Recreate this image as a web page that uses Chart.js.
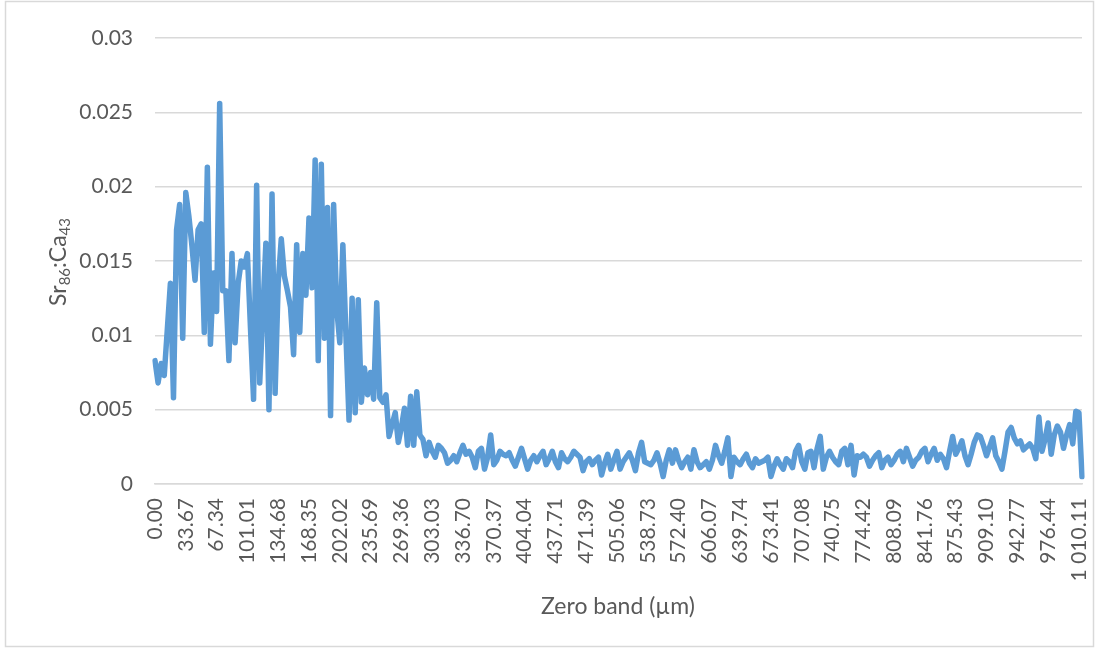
<!DOCTYPE html>
<html>
<head>
<meta charset="utf-8">
<script src="https://cdn.jsdelivr.net/npm/chart.js@4.4.1/dist/chart.umd.min.js"></script>
<style>
  html, body { margin: 0; padding: 0; background: #ffffff; }
  #wrap { width: 1102px; height: 652px; position: relative; }
</style>
</head>
<body>
<div id="wrap"><canvas id="c" width="1102" height="652"></canvas></div>
<script>
// ---- Data ----
const tickLabels = ["0.00","33.67","67.34","101.01","134.68","168.35","202.02","235.69","269.36","303.03",
  "336.70","370.37","404.04","437.71","471.39","505.06","538.73","572.40","606.07","639.74",
  "673.41","707.08","740.75","774.42","808.09","841.76","875.43","909.10","942.77","976.44","1 010.11"];
const pointsPerTick = 10;

const srCa = [
  0.0083, 0.0068, 0.0081, 0.0073, 0.0104, 0.0135, 0.0058, 0.0171, 0.0188, 0.0098,
  0.0196, 0.0180, 0.0160, 0.0137, 0.0171, 0.0175, 0.0102, 0.0213, 0.0094, 0.0142,
  0.0116, 0.0256, 0.0130, 0.0130, 0.0083, 0.0155, 0.0095, 0.0135, 0.0150, 0.0146,
  0.0155, 0.0105, 0.0057, 0.0201, 0.0068, 0.0115, 0.0162, 0.0050, 0.0195, 0.0061,
  0.0135, 0.0165, 0.0140, 0.0130, 0.0119, 0.0087, 0.0161, 0.0102, 0.0155, 0.0127,
  0.0179, 0.0132, 0.0218, 0.0083, 0.0215, 0.0098, 0.0186, 0.0046, 0.0188, 0.0118,
  0.0095, 0.0161, 0.0100, 0.0043, 0.0125, 0.0048, 0.0124, 0.0055, 0.0078, 0.0060,
  0.0075, 0.0057, 0.0122, 0.0058, 0.0055, 0.0060, 0.0032, 0.0040, 0.0048, 0.0028,
  0.0038, 0.0051, 0.0026, 0.0059, 0.0026, 0.0062, 0.0033, 0.0030, 0.0019, 0.0028,
  0.0022, 0.0018, 0.0026, 0.0024, 0.0021, 0.0014, 0.0016, 0.0019, 0.0015, 0.0021,
  0.0026, 0.0020, 0.0022, 0.0018, 0.0011, 0.0022, 0.0024, 0.0010, 0.0018, 0.0033,
  0.0013, 0.0016, 0.0022, 0.0020, 0.0019, 0.0021, 0.0016, 0.0012, 0.0018, 0.0024,
  0.0017, 0.0010, 0.0016, 0.0019, 0.0015, 0.0019, 0.0022, 0.0013, 0.0017, 0.0022,
  0.0015, 0.0011, 0.0021, 0.0017, 0.0015, 0.0018, 0.0022, 0.0020, 0.0018, 0.0009,
  0.0015, 0.0017, 0.0013, 0.0016, 0.0018, 0.0006, 0.0014, 0.0020, 0.0010, 0.0016,
  0.0022, 0.0010, 0.0015, 0.0018, 0.0021, 0.0016, 0.0009, 0.0021, 0.0028, 0.0015,
  0.0014, 0.0013, 0.0016, 0.0021, 0.0014, 0.0005, 0.0016, 0.0023, 0.0014, 0.0023,
  0.0016, 0.0011, 0.0015, 0.0018, 0.0010, 0.0023, 0.0015, 0.0011, 0.0013, 0.0015,
  0.0010, 0.0016, 0.0026, 0.0019, 0.0014, 0.0022, 0.0031, 0.0005, 0.0018, 0.0015,
  0.0013, 0.0017, 0.0020, 0.0014, 0.0011, 0.0017, 0.0014, 0.0015, 0.0016, 0.0018,
  0.0005, 0.0012, 0.0017, 0.0013, 0.0010, 0.0017, 0.0015, 0.0011, 0.0022, 0.0026,
  0.0015, 0.0010, 0.0021, 0.0022, 0.0011, 0.0024, 0.0032, 0.0010, 0.0018, 0.0022,
  0.0018, 0.0015, 0.0013, 0.0022, 0.0024, 0.0013, 0.0026, 0.0006, 0.0019, 0.0018,
  0.0020, 0.0018, 0.0012, 0.0016, 0.0019, 0.0021, 0.0011, 0.0016, 0.0018, 0.0013,
  0.0016, 0.0020, 0.0022, 0.0015, 0.0024, 0.0018, 0.0012, 0.0016, 0.0018, 0.0022,
  0.0024, 0.0015, 0.0020, 0.0024, 0.0016, 0.0020, 0.0017, 0.0011, 0.0022, 0.0032,
  0.0020, 0.0024, 0.0029, 0.0019, 0.0013, 0.0020, 0.0028, 0.0033, 0.0032, 0.0026,
  0.0019, 0.0025, 0.0031, 0.0019, 0.0015, 0.0010, 0.0022, 0.0035, 0.0038, 0.0031,
  0.0027, 0.0029, 0.0023, 0.0025, 0.0027, 0.0024, 0.0017, 0.0045, 0.0022, 0.0030,
  0.0041, 0.0020, 0.0033, 0.0039, 0.0035, 0.0024, 0.0033, 0.0040, 0.0027, 0.0049,
  0.0048, 0.0005
];

const xTitle = "Zero band (\u00b5m)";
const yTitleParts = [["Sr", false], ["86", true], [":Ca", false], ["43", true]];

// category labels: one per point, tick text every pointsPerTick points
const categories = srCa.map((v, i) => (i % pointsPerTick === 0 && tickLabels[i / pointsPerTick] !== undefined) ? tickLabels[i / pointsPerTick] : "");

const FONT = "Lato";
const TXT = "#595959";
const GRID = "#d9d9d9";

const decor = {
  id: "decor",
  beforeDraw(chart) {
    const ctx = chart.ctx;
    ctx.save();
    ctx.fillStyle = "#ffffff";
    ctx.fillRect(0, 0, chart.width, chart.height);
    ctx.strokeStyle = GRID;
    ctx.lineWidth = 1.5;
    ctx.strokeRect(5.5, 1.5, 1088, 645);
    ctx.restore();
  },
  afterDraw(chart) {
    const ctx = chart.ctx;
    ctx.save();
    ctx.fillStyle = TXT;
    // x title
    ctx.font = "23px " + FONT;
    ctx.textAlign = "center";
    ctx.textBaseline = "middle";
    ctx.fillText(xTitle, 618, 607);
    // y title with subscripts
    const big = "23px " + FONT, small = "15px " + FONT;
    let total = 0;
    yTitleParts.forEach(([t, sub]) => { ctx.font = sub ? small : big; total += ctx.measureText(t).width; });
    ctx.translate(58, 262);
    ctx.rotate(-Math.PI / 2);
    ctx.textAlign = "left";
    ctx.textBaseline = "alphabetic";
    let x = -total / 2;
    yTitleParts.forEach(([t, sub]) => {
      ctx.font = sub ? small : big;
      ctx.fillText(t, x, sub ? 12 : 8);
      x += ctx.measureText(t).width;
    });
    ctx.restore();
  }
};

new Chart(document.getElementById("c"), {
  type: "line",
  data: {
    labels: categories,
    datasets: [{
      data: srCa,
      borderColor: "#5b9bd5",
      borderWidth: 5.5,
      pointRadius: 0,
      tension: 0,
      fill: false,
      borderJoinStyle: "round",
      borderCapStyle: "round"
    }]
  },
  options: {
    responsive: false,
    animation: false,
    devicePixelRatio: 1,
    layout: { padding: { top: 38, right: 20, bottom: 0, left: 0 } },
    plugins: { legend: { display: false }, tooltip: { enabled: false } },
    scales: {
      x: {
        type: "category",
        offset: false,
        grid: { display: false, drawTicks: false },
        border: { display: true, color: GRID, width: 1.5 },
        ticks: {
          autoSkip: false,
          minRotation: 90,
          maxRotation: 90,
          padding: 14,
          color: TXT,
          font: { family: FONT, size: 21 }
        },
        afterFit(scale) {
          scale.height = 168;
          scale.paddingLeft = 0; scale.paddingRight = 0;
        }
      },
      y: {
        min: 0,
        max: 0.03,
        grid: { color: GRID, lineWidth: 1.5, drawTicks: false },
        border: { display: false },
        ticks: {
          stepSize: 0.005,
          padding: 22,
          color: TXT,
          font: { family: FONT, size: 21 },
          callback: (v) => String(parseFloat(Number(v).toFixed(3)))
        },
        afterFit(scale) {
          scale.width = 155;
          scale.paddingTop = 0; scale.paddingBottom = 0;
        }
      }
    }
  },
  plugins: [decor]
});
</script>
</body>
</html>
